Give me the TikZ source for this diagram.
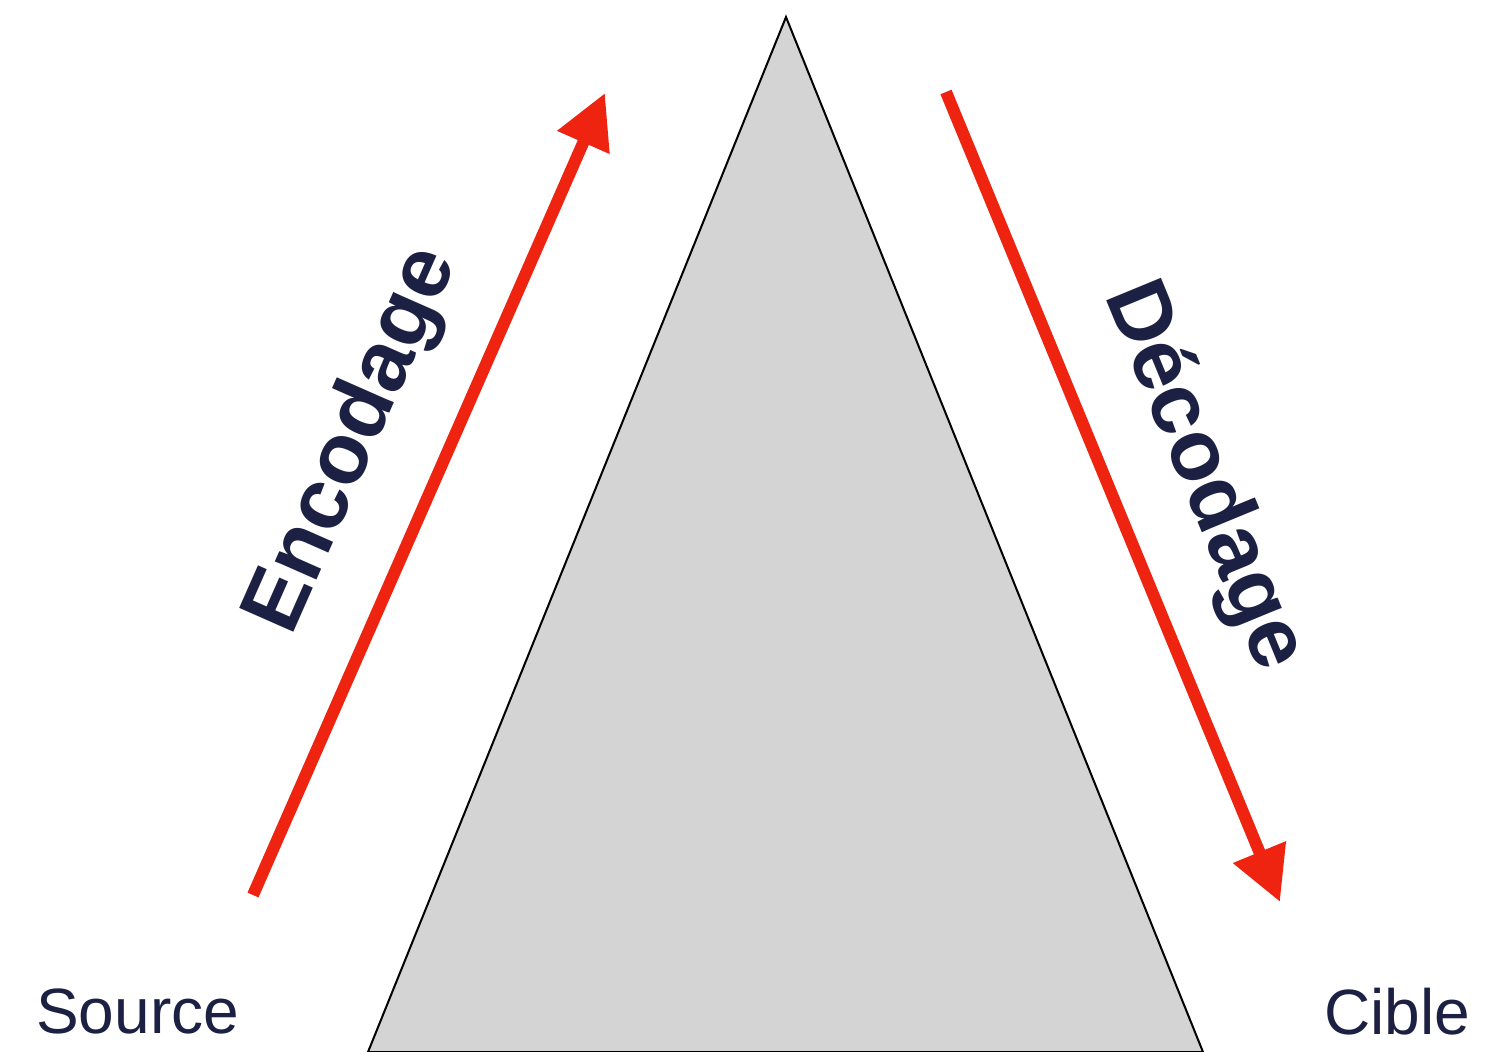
\documentclass[tikz,border=0pt]{standalone}
\usepackage{fontspec}
\setmainfont{Liberation Sans}
\usetikzlibrary{arrows.meta}
\definecolor{navy}{HTML}{1C2043}
\definecolor{redarrow}{HTML}{EE2411}
\definecolor{trifill}{HTML}{D4D4D4}
\tikzset{
  flow/.style={draw=redarrow, line width=12pt, -{Triangle[length=54pt,width=54pt]}},
  biglabel/.style={text=navy, font=\fontsize{86}{100}\selectfont\bfseries, inner sep=0pt, anchor=base west},
  endlabel/.style={text=navy, font=\fontsize{64}{76}\selectfont, inner sep=0pt, anchor=base west},
}
\begin{document}
\begin{tikzpicture}[x=1pt,y=-1pt]
\useasboundingbox (0,0) rectangle (1486,1052);
\fill[white] (0,0) rectangle (1486,1052);
% triangle
\coordinate (apex) at (786,17);
\coordinate (bl) at (368,1052);
\coordinate (br) at (1203,1052);
\draw[fill=trifill, draw=black, line width=2pt, line join=miter] (bl) -- (apex) -- (br) -- cycle;
% arrows
\coordinate (encS) at (253,895);
\coordinate (encE) at (605,93);
\coordinate (decS) at (946,92);
\coordinate (decE) at (1280,902);
\draw[flow] (encS) -- (encE);
\draw[flow] (decS) -- (decE);
% labels
\node[biglabel, rotate=66.2] (enc) at (291,638) {Encodage};
\node[biglabel, rotate=-67.6] (dec) at (1104,295) {Décodage};
\node[endlabel] (src) at (36,1033) {Source};
\node[endlabel] (tgt) at (1324,1034) {Cible};
\end{tikzpicture}
\end{document}
